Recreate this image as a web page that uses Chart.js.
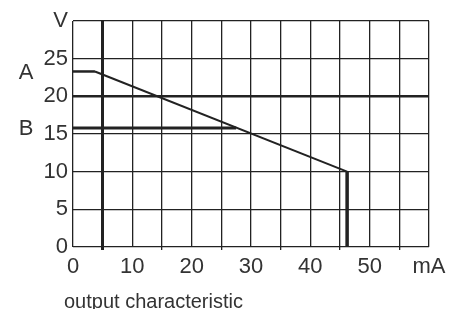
<!DOCTYPE html>
<html>
<head>
<meta charset="utf-8">
<script src="https://cdn.jsdelivr.net/npm/chart.js@4/dist/chart.umd.min.js"></script>
<style>
  html, body { margin: 0; padding: 0; background: #fff; }
  #wrap { width: 455px; height: 309px; }
</style>
</head>
<body>
<div id="wrap"><canvas id="myChart" width="455" height="309"></canvas></div>
<script>
// output characteristic: current (mA) vs voltage (V)
const flatA_I = [0, 3.7];
const flatA_V = [23.3, 23.3];
const slope_I = [3.7, 46.2];
const slope_V = [23.3, 10];
const drop_I = [46.2, 46.2];
const drop_V = [10, 0];
const lineB_I = [0, 27.5];
const lineB_V = [15.8, 15.8];

const xTicks = [0, 10, 20, 30, 40, 50];   // labelled x ticks, "mA" at the end
const yTicks = [0, 5, 10, 15, 20, 25];    // labelled y ticks, "V" at the top
const sideLabels = ["A", "B"];
const sideLevels = [23.3, 15.8];
const caption = "output characteristic";

const ink = "#222";
const textInk = "#333";
const font = "'Liberation Sans', Arial, sans-serif";

function pts(xs, ys) {
  return xs.map((x, i) => ({ x: x, y: ys[i] }));
}

function lineSet(xs, ys, w) {
  return {
    data: pts(xs, ys),
    borderColor: ink,
    borderWidth: w,
    pointRadius: 0,
    fill: false,
    tension: 0,
    borderCapStyle: "butt",
  };
}

// texte A / B a gauche et la legende en bas
const extraText = {
  id: "extraText",
  afterDraw(chart) {
    const ctx = chart.ctx;
    const y = chart.scales.y;
    ctx.save();
    ctx.fillStyle = textInk;
    ctx.font = "22px " + font;
    ctx.textAlign = "center";
    ctx.textBaseline = "middle";
    sideLabels.forEach((t, i) => {
      ctx.fillText(t, 26, y.getPixelForValue(sideLevels[i]) + 1);
    });
    ctx.font = "20px " + font;
    ctx.textAlign = "left";
    ctx.fillText(caption, 64, 302);
    ctx.restore();
  },
};

new Chart(document.querySelector("#myChart").getContext("2d"), {
  type: "line",
  data: {
    datasets: [
      lineSet(flatA_I, flatA_V, 2.5),
      lineSet(slope_I, slope_V, 2),
      lineSet(drop_I, drop_V, 3.5),
      lineSet(lineB_I, lineB_V, 3),
    ],
  },
  options: {
    responsive: false,
    animation: false,
    layout: { padding: { left: 0, right: 26, top: 21, bottom: 0 } },
    plugins: { legend: { display: false }, tooltip: { enabled: false } },
    scales: {
      x: {
        type: "linear",
        min: 0,
        max: 60,
        afterFit(scale) {
          scale.height = 62;
        },
        border: { display: false },
        grid: {
          color: ink,
          lineWidth: (c) => (c.tick && c.tick.value === 5 ? 3 : 1.3),
          tickLength: 3,
          tickColor: (c) => (c.tick && c.tick.value % 10 === 5 ? ink : "rgba(0,0,0,0)"),
        },
        ticks: {
          stepSize: 5,
          autoSkip: false,
          maxRotation: 0,
          padding: 4,
          color: textInk,
          font: { family: font, size: 22 },
          callback: (v) => (v === 60 ? "mA" : xTicks.includes(v) ? String(v) : ""),
        },
      },
      y: {
        min: 0,
        max: 30,
        afterFit(scale) {
          scale.width = 73;
        },
        border: { display: false },
        grid: {
          color: ink,
          lineWidth: (c) => (c.tick && c.tick.value === 20 ? 2.4 : 1.3),
          drawTicks: false,
        },
        ticks: {
          stepSize: 5,
          padding: 5,
          color: textInk,
          font: { family: font, size: 22 },
          callback: (v) => (v === 30 ? "V" : yTicks.includes(v) ? String(v) : ""),
        },
      },
    },
  },
  plugins: [extraText],
});
</script>
</body>
</html>
